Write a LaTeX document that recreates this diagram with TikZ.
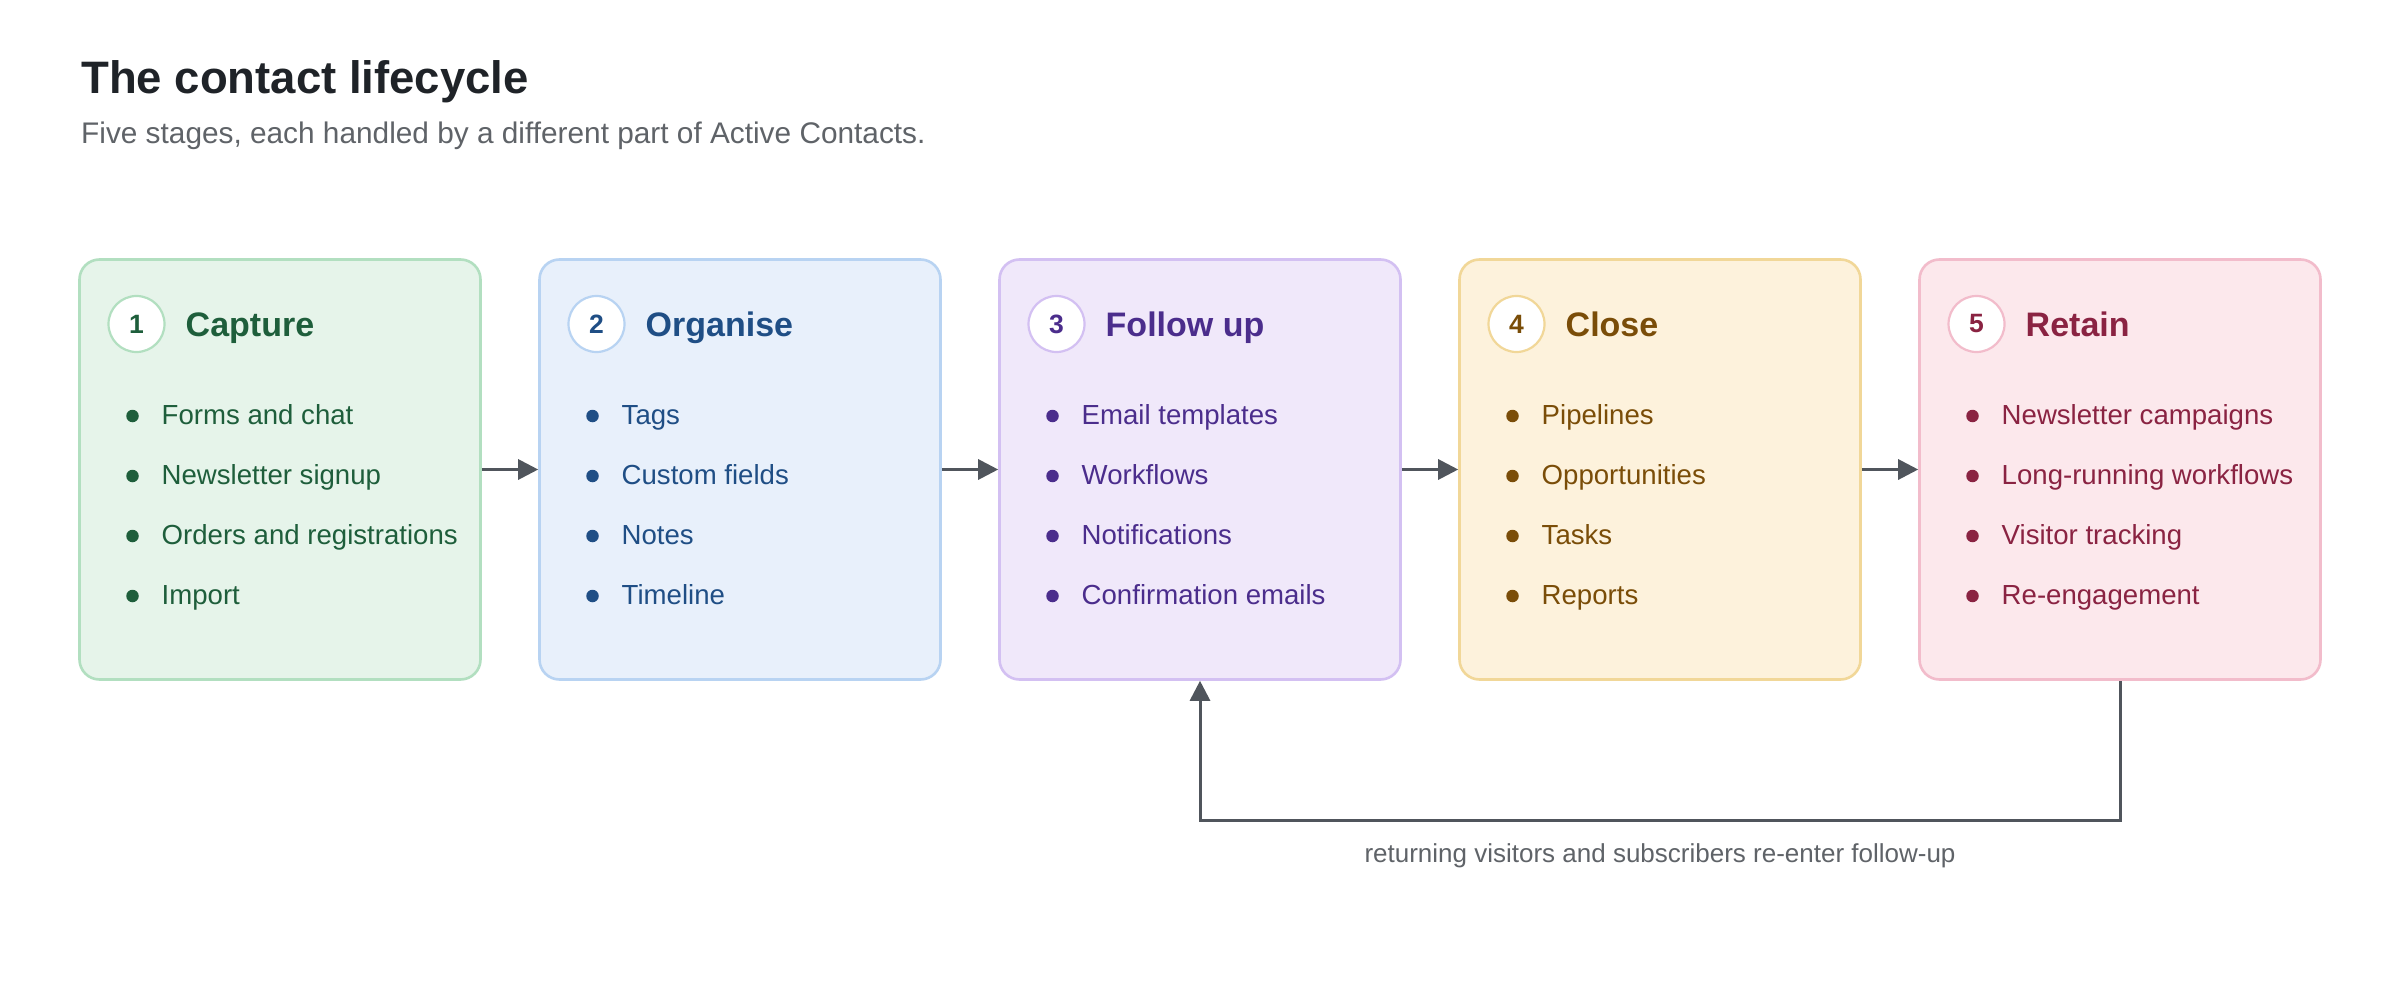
\documentclass[tikz,border=0pt]{standalone}
\usepackage{fontspec}
\setmainfont{Liberation Sans}
\usetikzlibrary{arrows.meta,calc}
\definecolor{fill1}{HTML}{E6F4EA}\definecolor{line1}{HTML}{B2DFC0}\definecolor{text1}{HTML}{1E5E3B}
\definecolor{fill2}{HTML}{E8F0FB}\definecolor{line2}{HTML}{B8D3F2}\definecolor{text2}{HTML}{1F4E85}
\definecolor{fill3}{HTML}{F0E8FA}\definecolor{line3}{HTML}{D3C0F2}\definecolor{text3}{HTML}{4B2D8C}
\definecolor{fill4}{HTML}{FDF2DC}\definecolor{line4}{HTML}{F1D798}\definecolor{text4}{HTML}{7A4D08}
\definecolor{fill5}{HTML}{FCE8EC}\definecolor{line5}{HTML}{F2BCCB}\definecolor{text5}{HTML}{8A2342}
\definecolor{arrowc}{HTML}{50555C}
\definecolor{titlec}{HTML}{1F2328}
\definecolor{subc}{HTML}{5F6368}
\begin{document}
\begin{tikzpicture}[x=1pt,y=-1pt,
  stagebox/.style={rectangle, rounded corners=20pt, minimum width=401pt, minimum height=420pt, line width=2.6pt, inner sep=0pt},
  numcirc/.style={circle, fill=white, line width=2.2pt, minimum size=56pt, inner sep=0pt, font=\fontsize{26.5}{30}\selectfont\bfseries},
  head/.style={anchor=base west, inner sep=0pt, font=\fontsize{34}{40}\selectfont\bfseries},
  itemtext/.style={anchor=base west, inner sep=0pt, font=\fontsize{27.6}{33}\selectfont},
  dot/.style={circle, inner sep=0pt, minimum size=12.5pt},
  conn/.style={draw=arrowc, line width=3pt, -{Triangle[length=20pt,width=20pt]}},
]
\useasboundingbox (0,0) rectangle (2400,1000);
\fill[white] (0,0) rectangle (2400,1000);
\node[anchor=base west, inner sep=0pt, text=titlec, font=\fontsize{45.5}{54}\selectfont\bfseries] (title) at (81,94) {The contact lifecycle};
\node[anchor=base west, inner sep=0pt, text=subc, font=\fontsize{29.8}{36}\selectfont] (subtitle) at (81,144) {Five stages, each handled by a different part of Active Contacts.};
\foreach \i/\ttl/\ia/\ib/\ic/\id in {
  1/Capture/Forms and chat/Newsletter signup/Orders and registrations/Import,
  2/Organise/Tags/Custom fields/Notes/Timeline,
  3/Follow up/Email templates/Workflows/Notifications/Confirmation emails,
  4/Close/Pipelines/Opportunities/Tasks/Reports,
  5/Retain/Newsletter campaigns/Long-running workflows/Visitor tracking/Re-engagement}{
  \pgfmathsetmacro\xo{79.5+460*(\i-1)}
  \node[stagebox, fill=fill\i, draw=line\i] (b\i) at (\xo+200.5,469.5) {};
  \node[numcirc, draw=line\i, text=text\i] (n\i) at (\xo+57,324) {\i};
  \node[head, text=text\i] (h\i) at (\xo+106,336) {\ttl};
  \foreach \itm [count=\k from 0] in {\ia,\ib,\ic,\id}{
    \node[dot, fill=text\i] (d\i\k) at (\xo+53,416+60*\k) {};
    \node[itemtext, text=text\i] (t\i\k) at (\xo+82,424+60*\k) {\itm};
  }
}
\foreach \i [evaluate=\i as \j using int(\i+1)] in {1,...,4}{
  \draw[conn] (b\i.east) -- (b\j.west);
}
\draw[conn] (b5.south) -- ++(0,140) coordinate (turn) -| (b3.south);
\node[text=subc, inner sep=0pt, font=\fontsize{26}{31}\selectfont] (loop) at ($(turn)+(-460,35)$) {returning visitors and subscribers re-enter follow-up};
\end{tikzpicture}
\end{document}
